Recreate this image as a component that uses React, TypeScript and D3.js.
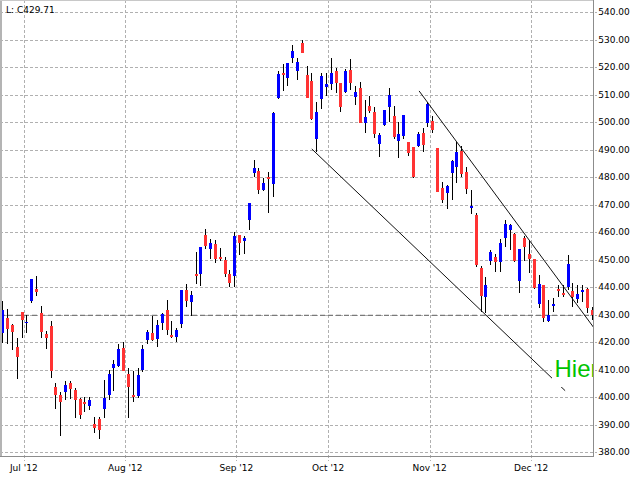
import React from "react";
import * as d3 from "d3";

// ---- data ----
const opens = [
  423.4, 428.7, 426.2, 418.1, 430.9, 426.8, 434.9, 439.3, 430.5, 422.9,
  425.8, 403.7, 400.7, 401.9, 405.0, 402.5, 399.3, 398.2, 396.7, 390.2,
  391.9, 395.6, 400.7, 410.5, 411.3, 417.7, 408.4, 400.7, 400.4, 409.8,
  420.7, 423.4, 421.1, 426.8, 431.6, 422.5, 421.9, 426.5, 438.9, 434.5,
  444.7, 444.7, 458.9, 453.9, 455.6, 450.8, 449.8, 444.7, 444.1, 458.9,
  456.8, 464.4, 481.6, 482.2, 475.3, 480.1, 477.5, 508.6, 517.9, 516.1,
  523.4, 518.7, 528.6, 517.1, 514.9, 493.9, 508.3, 512.8, 513.8, 518.5,
  514.3, 511.0, 518.9, 509.2, 512.4, 499.7, 505.9, 503.7, 492.0, 498.9,
  505.6, 502.2, 493.2, 495.0, 492.6, 491.0, 491.3, 495.9, 499.7, 500.4,
  490.4, 475.9, 474.3, 481.3, 483.5, 489.5, 481.9, 468.8, 466.2, 446.8,
  436.5, 449.6, 451.0, 449.2, 457.9, 460.7, 459.3, 442.2, 457.9, 452.0,
  450.2, 433.8, 440.7, 427.7, 433.1, 439.2, 437.7, 439.9, 438.5, 435.5,
  438.2, 439.3, 431.6,
];
const highs = [
  434.9, 432.0, 426.5, 421.3, 431.0, 429.8, 443.0, 444.0, 433.1, 424.0,
  427.6, 405.2, 401.9, 405.8, 405.8, 403.2, 399.5, 399.9, 400.1, 392.8,
  392.8, 406.2, 409.8, 413.5, 419.3, 420.1, 410.4, 409.6, 410.4, 418.9,
  424.4, 429.6, 428.0, 430.4, 435.3, 427.7, 425.0, 438.9, 441.1, 438.5,
  452.7, 454.6, 461.1, 457.3, 457.1, 454.2, 450.8, 446.2, 460.1, 458.9,
  458.5, 470.4, 486.2, 483.4, 479.7, 481.9, 503.7, 518.7, 521.1, 521.6,
  528.0, 523.2, 529.8, 520.4, 517.7, 507.4, 517.9, 517.9, 523.2, 519.5,
  514.3, 519.2, 522.9, 513.1, 514.7, 508.0, 509.5, 505.3, 495.9, 504.4,
  512.5, 505.8, 500.1, 502.4, 492.6, 491.0, 496.5, 497.7, 507.4, 502.2,
  490.4, 478.3, 477.1, 486.2, 492.8, 491.3, 483.7, 475.3, 466.8, 447.6,
  443.8, 453.5, 452.0, 457.3, 464.4, 462.8, 459.5, 453.8, 458.5, 457.1,
  450.2, 444.4, 440.7, 435.3, 435.9, 440.7, 440.7, 451.6, 441.3, 440.7,
  440.7, 439.5, 432.8,
];
const lows = [
  419.7, 419.4, 417.2, 406.7, 421.5, 423.4, 434.3, 436.7, 421.5, 417.5,
  407.0, 395.7, 385.9, 398.9, 399.3, 392.3, 391.9, 394.7, 395.3, 387.0,
  384.7, 392.3, 398.9, 402.2, 410.8, 409.4, 392.3, 398.3, 399.5, 409.2,
  419.3, 420.5, 418.3, 424.4, 422.5, 421.6, 420.1, 425.2, 432.6, 429.6,
  441.1, 440.4, 453.7, 450.3, 448.6, 449.6, 443.7, 439.9, 440.1, 451.6,
  452.0, 460.7, 480.1, 473.7, 474.9, 467.0, 472.8, 508.4, 511.3, 513.2,
  521.3, 515.3, 525.0, 508.6, 500.7, 489.2, 504.6, 509.6, 511.6, 510.4,
  503.7, 510.4, 511.6, 506.2, 499.5, 496.1, 503.2, 494.3, 487.4, 498.5,
  500.1, 493.7, 486.8, 493.7, 487.6, 479.5, 491.0, 489.2, 498.1, 496.1,
  474.5, 470.7, 468.5, 471.6, 477.7, 480.1, 473.8, 466.5, 447.2, 431.0,
  430.7, 448.0, 445.6, 445.6, 454.4, 453.5, 449.2, 437.9, 449.6, 445.2,
  439.3, 432.3, 427.4, 427.4, 431.0, 436.5, 436.3, 438.9, 432.8, 434.1,
  434.7, 430.4, 428.0,
];
const closes = [
  431.6, 424.8, 423.8, 414.5, 428.1, 427.4, 442.9, 438.3, 423.7, 421.6,
  409.6, 400.7, 398.3, 404.4, 402.9, 398.9, 393.5, 397.5, 398.9, 388.8,
  388.0, 399.7, 408.4, 412.0, 417.5, 409.6, 403.7, 400.0, 408.0, 417.3,
  423.7, 420.7, 426.2, 430.2, 424.4, 421.8, 424.4, 438.9, 435.0, 437.0,
  444.0, 454.5, 454.9, 455.9, 450.1, 450.1, 444.7, 441.6, 458.5, 456.1,
  457.9, 470.4, 483.4, 475.3, 477.7, 479.3, 503.4, 517.5, 517.1, 521.3,
  525.9, 521.9, 525.2, 508.8, 501.0, 503.7, 516.7, 513.8, 517.7, 514.3,
  505.6, 518.5, 514.3, 510.9, 499.7, 501.9, 504.0, 495.6, 495.3, 504.4,
  509.8, 494.4, 495.6, 502.4, 488.6, 480.1, 495.5, 491.6, 506.5, 497.1,
  474.7, 471.6, 476.7, 485.8, 489.0, 481.1, 475.5, 469.5, 448.0, 436.8,
  440.7, 452.6, 449.0, 455.9, 462.8, 462.5, 449.5, 453.8, 454.7, 450.1,
  439.7, 441.1, 428.6, 429.8, 433.8, 438.5, 437.1, 448.3, 436.5, 437.5,
  438.9, 432.3, 429.71,
];

const monthLabels = ["Jul '12", "Aug '12", "Sep '12", "Oct '12", "Nov '12", "Dec '12"];
const monthStartIndex = [5, 26, 49, 68, 89, 110];
const yTicks = [380, 390, 400, 410, 420, 430, 440, 450, 460, 470, 480, 490, 500, 510, 520, 530, 540];

// trend lines in data coordinates: [bar index, price]
const lowerTrend: [number, number][] = [[64.06, 490.2], [116.5, 402.3]];
const upperTrend: [number, number][] = [[86.27, 511.3], [124.5, 420.3]];

const lastLabel = "L: C429.71";
const noteText = "Hier";

// ---- layout ----
const W = 640;
const H = 480;
const plotL = 0;
const plotR = 593.3;
const plotT = 0;
const plotB = 456.7;

const FONT = "'DejaVu Sans', Verdana, sans-serif";

export default function App() {
  const n = closes.length;
  const x = d3.scaleLinear().domain([0, n - 1]).range([2.3, 591.7]);
  const y = d3.scaleLinear().domain([380, 540]).range([452, 12]);
  const line = d3
    .line<[number, number]>()
    .x((d) => x(d[0]))
    .y((d) => y(d[1]));

  const lastClose = closes[n - 1];
  const bodyW = 3;

  return (
    <div style={{ position: "fixed", left: 0, top: 0, width: W, height: H, background: "#fff" }}>
      <svg width={W} height={H} style={{ display: "block" }}>
        <defs>
          <clipPath id="plotClip">
            <rect x={plotL} y={plotT} width={plotR - plotL} height={plotB - plotT} />
          </clipPath>
        </defs>
        <rect x={0} y={0} width={W} height={H} fill="#fff" />

        {/* horizontal grid + right ticks */}
        {yTicks.map((t) => (
          <line
            key={"hg" + t}
            x1={plotL}
            x2={plotR + 4}
            y1={Math.round(y(t)) + 0.5}
            y2={Math.round(y(t)) + 0.5}
            stroke="#b0b0b0"
            strokeWidth={1}
            strokeDasharray="3,2"
            shapeRendering="crispEdges"
          />
        ))}
        {/* vertical month grid */}
        {monthStartIndex.map((mi, k) => {
          const gx = Math.round(x(mi - 0.55)) + 0.5;
          return (
            <line
              key={"vg" + k}
              x1={gx}
              x2={gx}
              y1={plotT}
              y2={plotB + 4}
              stroke="#b0b0b0"
              strokeWidth={1}
              strokeDasharray="3,2"
              shapeRendering="crispEdges"
            />
          );
        })}

        <g clipPath="url(#plotClip)">
          {/* last price line */}
          <line
            x1={plotL}
            x2={plotR}
            y1={y(lastClose)}
            y2={y(lastClose)}
            stroke="#7a7a7a"
            strokeWidth={1.3}
            strokeDasharray="5,3"
          />

          {/* candles */}
          {closes.map((c, i) => {
            const o = opens[i];
            const up = c >= o;
            const cx = Math.round(x(i)) + 0.5;
            const top = y(Math.max(o, c));
            const bot = y(Math.min(o, c));
            return (
              <g key={"c" + i} shapeRendering="crispEdges">
                <line x1={cx} x2={cx} y1={y(highs[i])} y2={y(lows[i])} stroke="#000" strokeWidth={1} />
                <rect
                  x={cx - bodyW / 2}
                  y={top}
                  width={bodyW}
                  height={Math.max(1.5, bot - top)}
                  fill={up ? "#0000ff" : "#ff3333"}
                />
              </g>
            );
          })}

          {/* trend lines */}
          <path d={line(lowerTrend) || ""} fill="none" stroke="#111" strokeWidth={1} />
          <path d={line(upperTrend) || ""} fill="none" stroke="#111" strokeWidth={1} />

          {/* note label */}
          <rect x={552} y={353} width={80} height={34} fill="#fff" />
          <text x={554.5} y={377.3} fill="#00c400" fontFamily="'Liberation Sans', Arial, sans-serif" fontSize={24}>
            {noteText}
          </text>
        </g>

        {/* borders */}
        <line x1={plotL + 1} x2={plotL + 1} y1={plotT} y2={plotB} stroke="#b4b4b4" strokeWidth={2} shapeRendering="crispEdges" />
        <line x1={plotL} x2={plotR} y1={plotT + 0.5} y2={plotT + 0.5} stroke="#c8c8c8" strokeWidth={1} shapeRendering="crispEdges" />
        <line x1={plotR} x2={plotR} y1={plotT} y2={plotB} stroke="#8c8c8c" strokeWidth={1} shapeRendering="crispEdges" />
        <line x1={plotL} x2={plotR} y1={plotB} y2={plotB} stroke="#8c8c8c" strokeWidth={1} shapeRendering="crispEdges" />

        {/* y labels */}
        {yTicks.map((t) => (
          <text key={"yl" + t} x={598.3} y={y(t) + 3.4} fontFamily={FONT} fontSize={9} fill="#000">
            {t.toFixed(2)}
          </text>
        ))}
        {/* x labels */}
        {monthStartIndex.map((mi, k) => (
          <text
            key={"xl" + k}
            x={x(mi - 0.55)}
            y={471}
            textAnchor="middle"
            fontFamily={FONT}
            fontSize={9}
            fill="#000"
          >
            {monthLabels[k]}
          </text>
        ))}

        {/* top-left last value label */}
        <text x={6} y={12.8} fontFamily={FONT} fontSize={9} fill="#000">
          {lastLabel}
        </text>
      </svg>
    </div>
  );
}
